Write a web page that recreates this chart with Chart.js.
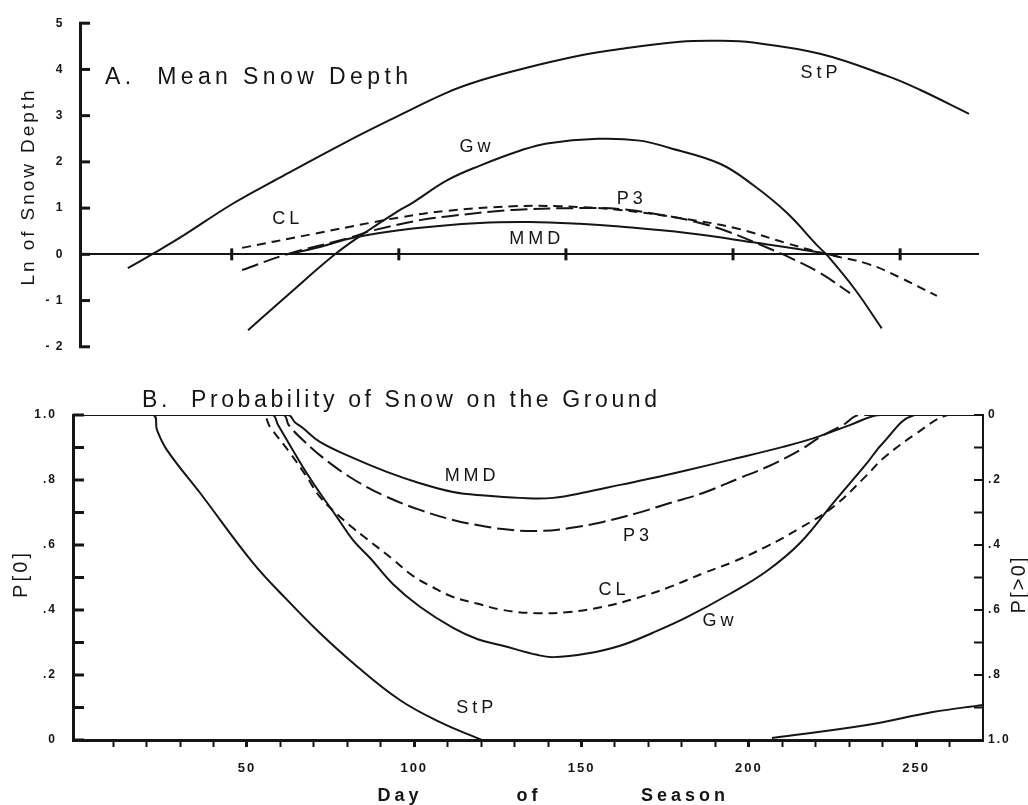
<!DOCTYPE html>
<html lang="en">
<head>
<meta charset="utf-8">
<title>Mean Snow Depth / Probability of Snow on the Ground</title>
<script src="https://cdn.jsdelivr.net/npm/chart.js@4.4.1/dist/chart.umd.min.js"></script>
<style>
  body { margin: 0; background: #fff; }
  .panel { position: absolute; left: 0; }
  #depthChart { top: 0; }
  #probChart { top: 370px; }
</style>
</head>
<body>
<canvas id="depthChart" class="panel" width="1028" height="370"></canvas>
<canvas id="probChart" class="panel" width="1028" height="435"></canvas>
<script>
// A. ln of mean snow depth, by day of season
var stpDepthDay = [18.9, 26.1, 34.5, 50.4, 64.4, 84.5, 99.4, 114.4, 124.3, 136.2, 154.2, 166.1, 184.1, 196.1, 206.0, 226.0, 246.1, 255.9, 270.6];
var stpDepthLn = [-0.30, 0.00, 0.36, 1.10, 1.66, 2.44, 2.98, 3.50, 3.76, 4.00, 4.30, 4.44, 4.60, 4.62, 4.58, 4.34, 3.86, 3.56, 3.04];

var gwDepthDay = [54.9, 67.4, 80.9, 89.3, 99.4, 104.2, 114.4, 124.3, 136.2, 144.3, 159.6, 172.1, 181.1, 196.1, 206.0, 216.1, 225.1, 228.4, 236.5, 244.5];
var gwDepthLn = [-1.64, -0.84, 0.00, 0.44, 0.92, 1.12, 1.60, 1.92, 2.24, 2.40, 2.50, 2.46, 2.30, 1.96, 1.50, 0.90, 0.20, -0.04, -0.76, -1.60];

var mmdDepthDay = [66.5, 76.4, 86.3, 104.2, 124.3, 139.2, 154.2, 166.1, 186.2, 206.0, 226.0, 232.0];
var mmdDepthLn = [0.00, 0.16, 0.36, 0.56, 0.68, 0.70, 0.66, 0.60, 0.46, 0.26, 0.04, -0.06];

var p3DepthDay = [53.1, 66.5, 86.3, 91.3, 106.3, 114.4, 134.1, 154.2, 166.1, 181.1, 190.1, 198.2, 211.0, 216.1, 226.0, 235.0];
var p3DepthLn = [-0.34, 0.00, 0.38, 0.50, 0.74, 0.82, 0.96, 1.00, 0.98, 0.82, 0.68, 0.50, 0.12, -0.04, -0.40, -0.84];

var clDepthDay = [53.1, 74.3, 91.3, 100.3, 114.4, 134.1, 148.2, 166.1, 186.2, 201.2, 216.1, 228.1, 240.1, 249.9, 261.0];
var clDepthLn = [0.14, 0.44, 0.68, 0.80, 0.94, 1.04, 1.04, 0.96, 0.76, 0.56, 0.24, 0.00, -0.20, -0.50, -0.90];

// B. probability of no snow on the ground, P[0]
var stpProbDayEarly = [-2, 21.9, 23.1, 26.1, 36.0, 51.8, 62.0, 71.8, 81.7, 95.7, 107.7, 120.2];
var stpProbEarly = [1, 1, 0.954, 0.892, 0.76, 0.545, 0.431, 0.329, 0.237, 0.123, 0.055, 0];
var stpProbDayLate = [206.9, 235.3, 255.0, 270];
var stpProbLate = [0.006, 0.046, 0.086, 0.108];

var gwProbDay = [-2, 57.5, 59.3, 66.7, 71.8, 76.9, 81.7, 86.8, 93.6, 101.7, 111.6, 119.0, 126.5, 136.7, 141.5, 151.6, 161.5, 171.3, 181.5, 194.4, 205.4, 215.3, 225.2, 235.3, 240.1, 249.5, 270];
var gwProb = [1, 1, 0.969, 0.84, 0.76, 0.686, 0.615, 0.56, 0.48, 0.41, 0.345, 0.31, 0.29, 0.262, 0.255, 0.266, 0.29, 0.33, 0.378, 0.45, 0.52, 0.606, 0.729, 0.852, 0.914, 1, 1];

var mmdProbDay = [-2, 62.3, 64.3, 66.7, 71.8, 81.7, 91.8, 101.7, 111.6, 121, 131.6, 141.5, 151.6, 161.5, 171.3, 181.5, 194.4, 210.2, 220.4, 230.2, 239.2, 270];
var mmdProb = [1, 1, 0.978, 0.96, 0.917, 0.868, 0.825, 0.79, 0.763, 0.752, 0.745, 0.745, 0.763, 0.785, 0.806, 0.83, 0.862, 0.902, 0.932, 0.969, 1, 1];

var p3ProbDay = [-2, 60.8, 62.5, 66.7, 74.8, 83.8, 91.8, 101.7, 111.6, 119.6, 126.5, 136.7, 146.5, 156.4, 166.6, 176.4, 186.3, 197.3, 205.4, 215.3, 221.3, 228.1, 233.2, 270];
var p3Prob = [1, 1, 0.969, 0.923, 0.852, 0.79, 0.748, 0.708, 0.677, 0.66, 0.649, 0.643, 0.652, 0.671, 0.698, 0.729, 0.76, 0.806, 0.84, 0.892, 0.932, 0.969, 1, 1];

var clProbDay = [-2, 54.5, 56.9, 62.9, 67.9, 71.8, 76.9, 81.7, 85.9, 93.6, 99.6, 105.6, 111.6, 118.7, 126.5, 136.7, 146.5, 156.4, 166.6, 176.4, 186.3, 195.3, 205.4, 215.3, 225.2, 235.3, 240.1, 250.2, 259.5, 270];
var clProb = [1, 1, 0.963, 0.883, 0.809, 0.748, 0.695, 0.652, 0.618, 0.556, 0.505, 0.47, 0.44, 0.42, 0.40, 0.39, 0.394, 0.41, 0.437, 0.471, 0.513, 0.548, 0.596, 0.652, 0.717, 0.815, 0.866, 0.944, 1, 1];

// marks along the zero line of panel A
var seasonMarks = [50, 100, 150, 200, 250];

var ink = '#151515';
var family = '"Liberation Sans", Arial, Helvetica, sans-serif';
var longDash = [17, 6];
var shortDash = [9, 6];

function pts(xs, ys) {
    return xs.map(function (x, i) { return { x: x, y: ys[i] }; });
}

function curve(label, xs, ys, dash) {
    return {
        label: label,
        data: pts(xs, ys),
        borderColor: ink,
        borderWidth: 2,
        borderDash: dash || [],
        pointRadius: 0,
        fill: false,
        tension: 0.4
    };
}

function stroke(ctx, x1, y1, x2, y2) {
    ctx.beginPath();
    ctx.moveTo(x1, y1);
    ctx.lineTo(x2, y2);
    ctx.stroke();
}

// spaced text, optionally stretched to a width and rotated
function drawText(ctx, text, x, y, o) {
    ctx.save();
    ctx.font = o.font;
    ctx.fillStyle = ink;
    ctx.textAlign = 'left';
    ctx.textBaseline = o.baseline || 'middle';
    ctx.letterSpacing = '0px';
    var w = ctx.measureText(text).width;
    var gap = o.width ? (o.width - w) / (text.length - 1) : (o.spacing || 0);
    var total = w + gap * (text.length - 1);
    ctx.letterSpacing = gap + 'px';
    ctx.translate(x, y);
    if (o.rotate) ctx.rotate(o.rotate);
    ctx.fillText(text, o.align === 'left' ? 0 : -total / 2, 0);
    ctx.restore();
}

function nameCurves(chart, names, yId) {
    var x = chart.scales.x, y = chart.scales[yId];
    names.forEach(function (n) {
        drawText(chart.ctx, n[0], x.getPixelForValue(n[1]), y.getPixelForValue(n[2]),
            { font: '18px ' + family, spacing: 4 });
    });
}

// ---- A. Mean Snow Depth
var depthMarks = {
    id: 'depthMarks',
    beforeDraw: function (chart) { chart.ctx.letterSpacing = '1.5px'; },
    afterDraw: function (chart) {
        var ctx = chart.ctx, a = chart.chartArea, x = chart.scales.x, y = chart.scales.y;
        var y0 = y.getPixelForValue(0);
        ctx.save();
        ctx.strokeStyle = ink;
        ctx.lineWidth = 3;
        y.ticks.forEach(function (t) {
            var py = y.getPixelForValue(t.value);
            stroke(ctx, a.left - 1, py, a.left + 10, py);
        });
        seasonMarks.forEach(function (d) {
            var px = x.getPixelForValue(d);
            stroke(ctx, px, y0 - 6, px, y0 + 6);
        });
        ctx.restore();
        drawText(ctx, 'A.  Mean Snow Depth', 105, 84,
            { font: '23px ' + family, width: 303, align: 'left', baseline: 'alphabetic' });
        drawText(ctx, 'Ln of Snow Depth', 29, (a.top + a.bottom) / 2 + 3,
            { font: '19px ' + family, width: 195, rotate: -Math.PI / 2 });
        nameCurves(chart, [
            ['StP', 225.7, 3.92], ['Gw', 122.8, 2.32], ['CL', 66.2, 0.76],
            ['P3', 169.1, 1.2], ['MMD', 140.7, 0.34]
        ], 'y');
    }
};

new Chart(document.getElementById('depthChart'), {
    type: 'line',
    data: {
        datasets: [
            curve('StP', stpDepthDay, stpDepthLn),
            curve('Gw', gwDepthDay, gwDepthLn),
            curve('MMD', mmdDepthDay, mmdDepthLn),
            curve('P3', p3DepthDay, p3DepthLn, longDash),
            curve('CL', clDepthDay, clDepthLn, shortDash)
        ]
    },
    options: {
        responsive: false,
        animation: false,
        events: [],
        layout: { padding: { top: 15, right: 49, bottom: 7, left: 0 } },
        plugins: { legend: { display: false }, tooltip: { enabled: false } },
        scales: {
            x: { type: 'linear', display: false, min: 4.6, max: 273.6 },
            y: {
                type: 'linear', position: 'left', min: -2, max: 5,
                afterFit: function (s) { s.width = 80; },
                grid: {
                    drawTicks: false,
                    lineWidth: 2,
                    color: function (c) { return c.tick && c.tick.value === 0 ? ink : 'rgba(0,0,0,0)'; }
                },
                border: { display: true, color: ink, width: 3 },
                ticks: {
                    stepSize: 1, padding: 16, color: ink, autoSkip: false,
                    font: { family: family, size: 12, weight: 'bold' },
                    callback: function (v) { return v < 0 ? '- ' + (-v) : String(v); }
                }
            }
        }
    },
    plugins: [depthMarks]
});

// ---- B. Probability of Snow on the Ground
function probLabel(v) {
    var k = Math.round(v * 10);
    if (k % 2) return '';
    if (k === 0) return '0';
    if (k === 10) return '1.0';
    return '.' + k;
}

var probMarks = {
    id: 'probMarks',
    beforeDraw: function (chart) { chart.ctx.letterSpacing = '2px'; },
    afterDraw: function (chart) {
        var ctx = chart.ctx, a = chart.chartArea, y = chart.scales.y, y2 = chart.scales.y2;
        ctx.save();
        ctx.strokeStyle = ink;
        y.ticks.forEach(function (t) {
            var py = y.getPixelForValue(t.value);
            ctx.lineWidth = 3;
            stroke(ctx, a.left, py, a.left + 11, py);
        });
        y2.ticks.forEach(function (t) {
            var py = y2.getPixelForValue(t.value);
            ctx.lineWidth = 2;
            stroke(ctx, a.right - 9, py, a.right, py);
        });
        ctx.restore();
        drawText(ctx, 'B.  Probability of Snow on the Ground', 142, 37,
            { font: '23px ' + family, width: 515, align: 'left', baseline: 'alphabetic' });
        drawText(ctx, 'P[0]', 21, (a.top + a.bottom) / 2 - 2,
            { font: '20px ' + family, width: 45, rotate: -Math.PI / 2 });
        drawText(ctx, 'P[>0]', 1019, (a.top + a.bottom) / 2 + 8,
            { font: '20px ' + family, width: 56, rotate: -Math.PI / 2 });
        var axisFont = { font: 'bold 18px ' + family, spacing: 4, baseline: 'alphabetic' };
        drawText(ctx, 'Day', 398, 431, axisFont);
        drawText(ctx, 'of', 527, 431, axisFont);
        drawText(ctx, 'Season', 683, 431, axisFont);
        nameCurves(chart, [
            ['MMD', 116.7, 0.812], ['P3', 166.3, 0.628], ['CL', 159.1, 0.462],
            ['Gw', 190.8, 0.366], ['StP', 118.1, 0.098]
        ], 'y');
    }
};

var probTickFont = { family: family, size: 12, weight: 'bold' };

new Chart(document.getElementById('probChart'), {
    type: 'line',
    data: {
        datasets: [
            curve('StP', stpProbDayEarly, stpProbEarly),
            curve('StP late', stpProbDayLate, stpProbLate),
            curve('Gw', gwProbDay, gwProb),
            curve('MMD', mmdProbDay, mmdProb),
            curve('P3', p3ProbDay, p3Prob, longDash),
            curve('CL', clProbDay, clProb, shortDash)
        ]
    },
    options: {
        responsive: false,
        animation: false,
        events: [],
        layout: { padding: { top: 45, right: 0, bottom: 0, left: 0 } },
        plugins: { legend: { display: false }, tooltip: { enabled: false } },
        scales: {
            x: {
                type: 'linear', position: 'bottom', min: -2, max: 270,
                afterFit: function (s) { s.height = 65; },
                afterBuildTicks: function (s) {
                    s.ticks = s.ticks.filter(function (t) { return t.value > 0 && t.value < 270; });
                },
                grid: {
                    drawOnChartArea: false, drawTicks: true, tickLength: 7, tickColor: ink,
                    tickWidth: function (c) { return c.tick && c.tick.value % 50 === 0 ? 3 : 2; }
                },
                border: { display: true, color: ink, width: 3 },
                ticks: {
                    stepSize: 10, includeBounds: false, autoSkip: false, maxRotation: 0,
                    padding: 14, color: ink,
                    font: { family: family, size: 13, weight: 'bold' },
                    callback: function (v) { return v % 50 === 0 ? String(v) : ''; }
                }
            },
            y: {
                type: 'linear', position: 'left', min: 0, max: 1,
                afterFit: function (s) { s.width = 73; },
                grid: { display: false, drawTicks: false },
                border: { display: true, color: ink, width: 3 },
                ticks: { stepSize: 0.1, autoSkip: false, padding: 16, color: ink, font: probTickFont, callback: probLabel }
            },
            y2: {
                type: 'linear', position: 'right', min: 0, max: 1, reverse: true,
                afterFit: function (s) { s.width = 45; },
                grid: { display: false, drawTicks: false },
                border: { display: true, color: ink, width: 2 },
                ticks: { stepSize: 0.1, autoSkip: false, padding: 5, color: ink, font: probTickFont, callback: probLabel }
            }
        }
    },
    plugins: [probMarks]
});
</script>
</body>
</html>
